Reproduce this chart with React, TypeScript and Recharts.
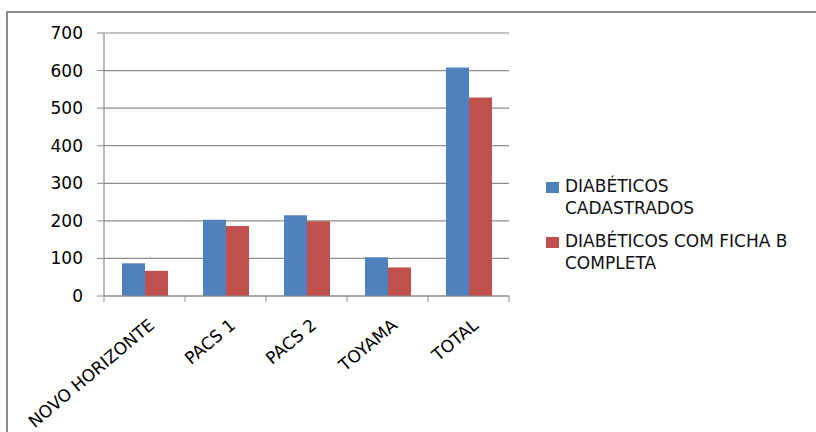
import React from 'react';
import { BarChart, Bar, XAxis, YAxis, CartesianGrid, Legend } from 'recharts';

const categories = ['NOVO HORIZONTE', 'PACS 1', 'PACS 2', 'TOYAMA', 'TOTAL'];
const cadastrados = [87, 203, 215, 103, 608];
const fichaCompleta = [67, 186, 199, 76, 528];
const yTicks = [0, 100, 200, 300, 400, 500, 600, 700];

const seriesKeys = ['cadastrados', 'fichaCompleta'];
const seriesColors = ['#4F81BD', '#C0504D'];
// legend text, already split where the original wraps it
const seriesLabels = [
  ['DIABÉTICOS', 'CADASTRADOS'],
  ['DIABÉTICOS COM FICHA B', 'COMPLETA'],
];

const data = categories.map((name, i) => ({
  name,
  cadastrados: cadastrados[i],
  fichaCompleta: fichaCompleta[i],
}));

const FONT = '"DejaVu Sans", sans-serif';
const GRID = '#8c8c8c';

const CategoryTick = (props: any) => {
  const { x, y, payload, index } = props;
  const half = payload?.offset || 40.5;
  return (
    <g>
      <line x1={x - half} y1={y} x2={x - half} y2={y + 6} stroke={GRID} />
      {index === categories.length - 1 && (
        <line x1={x + half} y1={y} x2={x + half} y2={y + 6} stroke={GRID} />
      )}
      <text
        transform={`translate(${x + 11},${y + 31}) rotate(-40)`}
        textAnchor="end"
        fontFamily={FONT}
        fontSize={17}
        fill="#000"
      >
        {payload.value}
      </text>
    </g>
  );
};

const renderLegend = () => (
  <div style={{ fontFamily: FONT, fontSize: 17, color: '#111', lineHeight: '22px' }}>
    {seriesLabels.map((lines, i) => (
      <div key={i} style={{ display: 'flex', alignItems: 'flex-start', marginBottom: 11 }}>
        <span
          style={{
            display: 'inline-block',
            width: 13,
            height: 11,
            background: seriesColors[i],
            marginTop: 7,
            marginRight: 6,
            flexShrink: 0,
          }}
        />
        <span>
          {lines.map((l) => (
            <div key={l}>{l}</div>
          ))}
        </span>
      </div>
    ))}
  </div>
);

export default function App() {
  return (
    <div style={{ position: 'absolute', left: 0, top: 0, width: 816, height: 432, background: '#fff', overflow: 'hidden' }}>
      <div
        style={{
          position: 'absolute',
          left: 6,
          top: 11,
          width: 840,
          height: 460,
          borderLeft: '2px solid #8c8c8c',
          borderTop: '2px solid #8c8c8c',
        }}
      />
      <div style={{ position: 'absolute', left: 0, top: 0 }}>
        <BarChart
          width={816}
          height={432}
          data={data}
          margin={{ top: 33, right: 307, bottom: 0, left: 0 }}
          barGap={0}
          barSize={23}
        >
          <CartesianGrid vertical={false} stroke={GRID} strokeWidth={1.2} />
          <XAxis
            dataKey="name"
            height={136}
            tickLine={false}
            tickSize={0}
            tickMargin={0}
            interval={0}
            axisLine={{ stroke: GRID, strokeWidth: 1.2 }}
            tick={<CategoryTick />}
          />
          <YAxis
            width={104}
            domain={[0, 700]}
            ticks={yTicks}
            interval={0}
            tickSize={7}
            tickMargin={14}
            tickLine={{ stroke: GRID }}
            axisLine={{ stroke: GRID, strokeWidth: 1.2 }}
            tick={{ fontFamily: FONT, fontSize: 17, fill: '#000' }}
          />
          <Legend
            layout="vertical"
            align="center"
            verticalAlign="middle"
            content={renderLegend}
            wrapperStyle={{ left: 546, top: 175, width: 270 }}
          />
          {seriesKeys.map((key, i) => (
            <Bar
              key={key}
              dataKey={key}
              name={seriesLabels[i].join(' ')}
              fill={seriesColors[i]}
              isAnimationActive={false}
            />
          ))}
        </BarChart>
      </div>
    </div>
  );
}
